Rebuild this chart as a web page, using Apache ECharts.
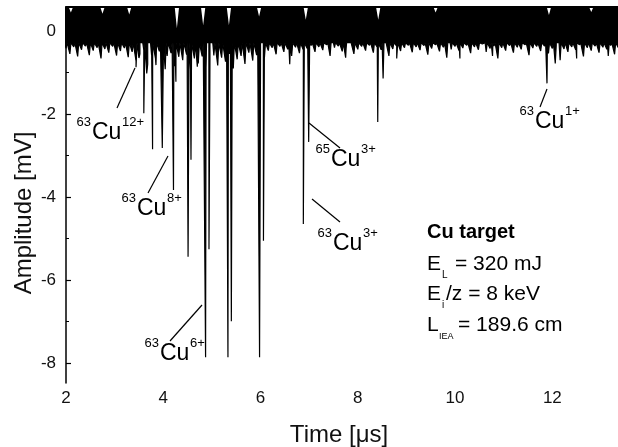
<!DOCTYPE html>
<html>
<head>
<meta charset="utf-8">
<script src="https://cdn.jsdelivr.net/npm/echarts@6/dist/echarts.min.js"></script>
<style>
  html, body { margin: 0; padding: 0; background: #fff; }
  #chart { width: 618px; height: 447px; }
</style>
</head>
<body>
<div id="chart"></div>
<script>
// lower edge of the baseline noise band, one value every 0.08 us from 2 us
const noiseStart = 2;
const noiseStep = 0.08;
const noiseLow = [
  -0.42, -0.55, -0.38, -0.61, -0.45, -0.36, -0.58, -0.47, -0.40, -0.66, -0.43, -0.52, -0.37, -0.59, -0.48, -0.41, -0.63,
  -0.50, -0.72, -0.55, -0.46, -0.80, -0.58, -0.66, -0.49, -0.75, -0.60, -0.53, -0.85, -0.62, -0.70, -0.57, -0.92, -0.66, -0.78,
  -0.61, -0.88, -0.70, -0.59, -0.83, -0.64, -0.74, -0.55, -0.90, -0.68, -0.60, -0.79, -0.52, -0.71, -0.58, -0.49, -0.64, -0.47,
  -0.40, -0.56, -0.37, -0.50, -0.44, -0.60, -0.39, -0.53, -0.46,
  -0.42, -0.35, -0.50, -0.38, -0.46, -0.33, -0.58, -0.40, -0.36, -0.49, -0.41, -0.31, -0.55, -0.44, -0.37, -0.47, -0.34, -0.52, -0.39, -0.45,
  -0.32, -0.60, -0.43, -0.36, -0.48, -0.40, -0.34, -0.51, -0.38, -0.46, -0.35, -0.57, -0.42, -0.33, -0.49, -0.39, -0.62, -0.44, -0.37, -0.47,
  -0.41, -0.34, -0.53, -0.38, -0.45, -0.31, -0.50, -0.42, -0.36, -0.66, -0.40, -0.47, -0.35, -0.52, -0.39, -0.44, -0.33, -0.58, -0.41, -0.37,
  -0.48, -0.36, -0.54, -0.42, -0.34, -0.70, -0.43, -0.50, -0.38, -0.45, -0.33, -0.61, -0.40, -0.47, -0.36, -0.52, -0.39, -0.44, -0.35, -0.56, -0.41
];
const noiseBase = -0.28;  // solid part of the band

// downward peaks: time [us] and amplitude [mV]
const peakTimes = [3.44, 3.50, 3.60, 3.66, 3.78, 3.85, 3.98, 4.04, 4.21, 4.26, 4.51, 4.57, 4.70, 4.87, 4.94,
  5.33, 5.40, 5.98, 6.06, 6.60, 6.88, 6.99, 7.43, 7.75, 8.41, 8.52, 8.80, 9.83, 10.10, 10.77, 11.89, 12.06, 12.50, 13.15];
const peakDepths = [-0.87, -0.65, -1.98, -1.02, -2.85, -0.82, -2.82, -0.92, -3.83, -1.22, -5.44, -3.10, -0.86, -7.86, -5.26,
  -7.86, -6.99, -7.86, -5.05, -0.80, -4.65, -2.67, -0.60, -0.64, -2.19, -1.14, -0.66, -0.64, -0.66, -0.60, -1.26, -0.78, -0.66, -0.60];

// white notches in the upper edge of the band
const gapTimes = [2.10, 2.75, 3.30, 4.28, 4.82, 5.35, 5.97, 6.93, 8.42, 9.60, 11.93, 12.80];
const gapTops = [0.45, 0.42, 0.40, 0.07, 0.14, 0.14, 0.35, 0.27, 0.27, 0.45, 0.39, 0.46];

const xTicks = [2, 4, 6, 8, 10, 12];
const xMinor = [3, 5, 7, 9, 11, 13];
const yTicks = [0, -2, -4, -6, -8];
const yMinor = [-1, -3, -5, -7];

const xMin = 2, xMax = 13.35, yMin = -8.48, yMax = 0.58;
const FONT = '"Liberation Sans", Arial, Helvetica, sans-serif';

// signal = noise hairlines + narrow peaks, sorted by time
const signal = [];
noiseLow.forEach((v, i) => {
    const t = noiseStart + i * noiseStep;
    signal.push([t - 0.022, noiseBase], [t, v], [t + 0.022, noiseBase]);
});
peakTimes.forEach((t, i) => {
    signal.push([t - 0.02, noiseBase], [t, peakDepths[i]], [t + 0.02, noiseBase]);
});
signal.sort((a, b) => a[0] - b[0]);

const topEdge = [[xMin, yMax]];
gapTimes.forEach((t, i) => {
    topEdge.push([t - 0.045, yMax], [t, gapTops[i]], [t + 0.045, yMax]);
});
topEdge.push([xMax, yMax]);

const black = { color: '#000', width: 1.5 };

const chart = echarts.init(document.getElementById('chart'));
chart.setOption({
    animation: false,
    backgroundColor: '#fff',
    grid: { left: 66, right: 0, top: 7, bottom: 64 },
    xAxis: [
        {
            type: 'value', min: xMin, max: xMax, position: 'bottom', z: 10,
            axisLine: { lineStyle: black },
            axisTick: { inside: true, length: 5, customValues: xTicks, lineStyle: { color: '#000', width: 1.2 } },
            axisLabel: { customValues: xTicks, fontSize: 17, margin: 7, color: '#111', fontFamily: FONT },
            splitLine: { show: false }
        },
        {
            type: 'value', min: xMin, max: xMax, position: 'bottom', z: 10,
            axisLine: { show: false },
            axisTick: { inside: true, length: 3, customValues: xMinor, lineStyle: { color: '#000', width: 1 } },
            axisLabel: { show: false },
            splitLine: { show: false }
        },
        {
            type: 'value', min: xMin, max: xMax, position: 'top', z: 10,
            axisLine: { lineStyle: { color: '#000', width: 2 } },
            axisTick: { show: false },
            axisLabel: { show: false },
            splitLine: { show: false }
        }
    ],
    yAxis: [
        {
            type: 'value', min: yMin, max: yMax, position: 'left', z: 10,
            axisLine: { lineStyle: black },
            axisTick: { inside: true, length: 5, customValues: yTicks, lineStyle: { color: '#000', width: 1.2 } },
            axisLabel: { customValues: yTicks, fontSize: 17, margin: 10, color: '#111', fontFamily: FONT },
            splitLine: { show: false }
        },
        {
            type: 'value', min: yMin, max: yMax, position: 'left', z: 10,
            axisLine: { show: false },
            axisTick: { inside: true, length: 3, customValues: yMinor, lineStyle: { color: '#000', width: 1 } },
            axisLabel: { show: false },
            splitLine: { show: false }
        }
    ],
    series: [
        {
            name: 'signal', type: 'line', data: signal, symbol: 'none',
            lineStyle: { color: '#000', width: 1.2 },
            areaStyle: { color: '#000', opacity: 1, origin: 'end' }
        },
        {
            name: 'top edge', type: 'line', data: topEdge, symbol: 'none',
            lineStyle: { width: 0 },
            areaStyle: { color: '#fff', opacity: 1, origin: 'end' }
        }
    ]
});

// ion labels with leader lines
const ions = [
    { m: '63', q: '12+', x: 92, y: 140, line: [117, 108, 135, 68] },
    { m: '63', q: '8+', x: 137, y: 216, line: [148, 193, 168, 156] },
    { m: '63', q: '6+', x: 160, y: 361, line: [170, 341, 202, 305] },
    { m: '65', q: '3+', x: 331, y: 167, line: [309, 123, 340, 148] },
    { m: '63', q: '3+', x: 333, y: 251, line: [312, 199, 340, 222] },
    { m: '63', q: '1+', x: 535, y: 129, line: [540, 107, 547, 89] }
];

function txt(s, x, baseline, size, opts) {
    opts = opts || {};
    return {
        type: 'text', x: x, y: baseline - 0.31 * size, z: 20,
        style: {
            text: s, fill: opts.color || '#000', align: opts.align || 'left', verticalAlign: 'middle',
            font: (opts.bold ? 'bold ' : '') + size + 'px ' + FONT
        }
    };
}

const els = [];
ions.forEach(o => {
    els.push({
        type: 'line', z: 20,
        shape: { x1: o.line[0], y1: o.line[1], x2: o.line[2], y2: o.line[3] },
        style: { stroke: '#000', lineWidth: 1.2 }
    });
    els.push(txt(o.m, o.x - 1, o.y - 14, 13, { align: 'right' }));
    els.push(txt('Cu', o.x, o.y, 23));
    els.push(txt(o.q, o.x + 30, o.y - 14, 13));
});

// parameter box
els.push(txt('Cu target', 427, 239, 20, { bold: true }));
els.push(txt('E', 427, 271, 21));
els.push(txt('L', 442, 278, 10));
els.push(txt('= 320 mJ', 455, 271, 21));
els.push(txt('E', 427, 301, 21));
els.push(txt('i', 442, 308, 10));
els.push(txt('/z = 8 keV', 446, 301, 21));
els.push(txt('L', 427, 332, 21));
els.push(txt('IEA', 439, 339, 9));
els.push(txt('= 189.6 cm', 458, 332, 21));

// axis titles
els.push({
    type: 'text', x: 339, y: 435, z: 20,
    style: { text: 'Time [μs]', fill: '#111', align: 'center', verticalAlign: 'middle', font: '24px ' + FONT }
});
els.push({
    type: 'text', x: 24, y: 213, rotation: Math.PI / 2, z: 20,
    style: { text: 'Amplitude [mV]', fill: '#111', align: 'center', verticalAlign: 'middle', font: '24px ' + FONT }
});

chart.setOption({ graphic: { elements: els } });
</script>
</body>
</html>
